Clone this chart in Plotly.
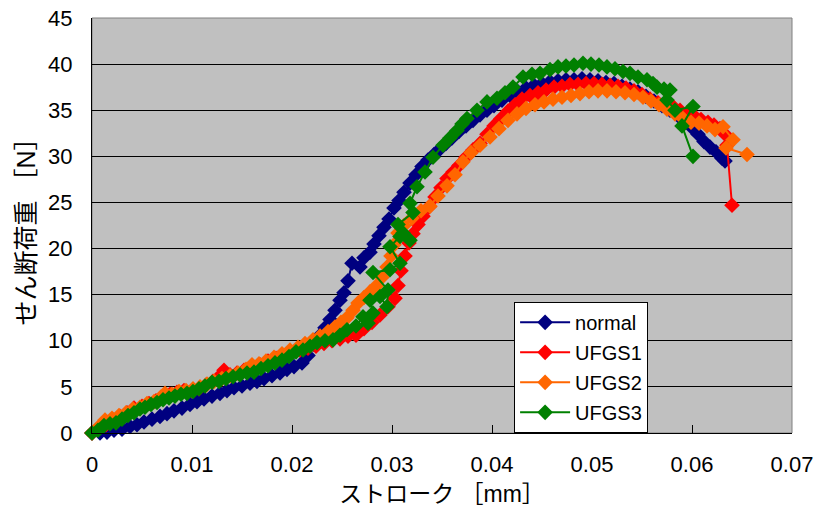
import plotly.graph_objects as go

# Shear load vs. stroke for the four specimen conditions
normal_x = [0.0000, 0.0008, 0.0015, 0.0022, 0.0030, 0.0038, 0.0045, 0.0052, 0.0060, 0.0068,
            0.0075, 0.0082, 0.0090, 0.0098, 0.0105, 0.0112, 0.0120, 0.0128, 0.0135, 0.0142,
            0.0150, 0.0158, 0.0165, 0.0172, 0.0180, 0.0188, 0.0195, 0.0202, 0.0210, 0.0216,
            0.0222, 0.0228, 0.0233, 0.0238, 0.0243, 0.0248, 0.0252, 0.0256, 0.0260, 0.0268,
            0.0272, 0.0278, 0.0282, 0.0287, 0.0292, 0.0297, 0.0302, 0.0307, 0.0312, 0.0318,
            0.0324, 0.0330, 0.0336, 0.0342, 0.0348, 0.0354, 0.0360, 0.0367, 0.0374, 0.0381,
            0.0388, 0.0395, 0.0402, 0.0410, 0.0418, 0.0426, 0.0434, 0.0442, 0.0450, 0.0458,
            0.0466, 0.0474, 0.0482, 0.0490, 0.0498, 0.0506, 0.0514, 0.0522, 0.0530, 0.0538,
            0.0546, 0.0554, 0.0562, 0.0570, 0.0578, 0.0586, 0.0594, 0.0600, 0.0606, 0.0612,
            0.0618, 0.0624, 0.0630, 0.0633]
normal_y = [0.0, 0.0, 0.1, 0.3, 0.4, 0.7, 0.9, 1.2, 1.5, 1.8,
            2.1, 2.4, 2.7, 3.1, 3.4, 3.7, 4.0, 4.3, 4.6, 4.9,
            5.1, 5.4, 5.6, 5.9, 6.2, 6.5, 6.9, 7.2, 7.6, 8.4,
            9.6, 10.6, 11.4, 12.3, 13.3, 14.4, 15.2, 16.5, 18.4, 18.0,
            19.0, 19.6, 20.5, 21.4, 22.3, 23.2, 24.4, 25.2, 26.1, 27.1,
            28.0, 28.9, 29.6, 30.2, 30.8, 31.4, 32.0, 32.7, 33.3, 33.9,
            34.5, 35.0, 35.5, 36.1, 36.6, 37.0, 37.4, 37.7, 37.9, 38.1,
            38.2, 38.3, 38.3, 38.4, 38.3, 38.2, 38.0, 37.9, 37.6, 37.3,
            37.0, 36.5, 36.0, 35.5, 35.0, 34.4, 33.8, 33.1, 32.4, 31.6,
            31.0, 30.5, 29.8, 29.5]

ufgs1_x = [0.0000, 0.0007, 0.0014, 0.0021, 0.0028, 0.0035, 0.0042, 0.0050, 0.0057, 0.0064,
           0.0071, 0.0078, 0.0085, 0.0092, 0.0100, 0.0107, 0.0114, 0.0121, 0.0128, 0.0132,
           0.0138, 0.0145, 0.0152, 0.0160, 0.0168, 0.0176, 0.0184, 0.0192, 0.0200, 0.0208,
           0.0216, 0.0224, 0.0232, 0.0240, 0.0248, 0.0256, 0.0264, 0.0272, 0.0280, 0.0288,
           0.0296, 0.0303, 0.0306, 0.0309, 0.0313, 0.0317, 0.0321, 0.0326, 0.0331, 0.0337,
           0.0343, 0.0349, 0.0355, 0.0361, 0.0367, 0.0374, 0.0381, 0.0388, 0.0395, 0.0402,
           0.0409, 0.0416, 0.0423, 0.0430, 0.0438, 0.0446, 0.0454, 0.0462, 0.0470, 0.0478,
           0.0486, 0.0494, 0.0502, 0.0510, 0.0518, 0.0526, 0.0534, 0.0542, 0.0550, 0.0558,
           0.0566, 0.0574, 0.0581, 0.0588, 0.0595, 0.0602, 0.0609, 0.0616, 0.0622, 0.0628,
           0.0633, 0.0635, 0.0640]
ufgs1_y = [0.0, 0.5, 0.9, 1.4, 1.8, 2.2, 2.7, 2.9, 3.2, 3.5,
           3.9, 4.2, 4.4, 4.6, 4.6, 4.8, 5.2, 5.6, 6.2, 6.8,
           6.3, 6.5, 6.8, 7.1, 7.4, 7.8, 8.1, 8.4, 8.7, 9.0,
           9.2, 9.4, 9.7, 10.0, 10.2, 10.5, 10.6, 11.3, 12.0, 12.8,
           13.7, 14.6, 16.0, 17.6, 19.2, 20.6, 21.6, 22.6, 23.5, 24.5,
           25.6, 26.6, 27.6, 28.3, 29.0, 29.9, 30.7, 31.4, 32.4, 33.3,
           34.1, 34.9, 35.6, 36.2, 36.6, 36.9, 37.2, 37.5, 37.6, 37.8,
           37.8, 37.9, 37.9, 37.8, 37.7, 37.6, 37.4, 37.1, 36.7, 36.2,
           35.8, 35.6, 35.4, 35.0, 34.7, 34.4, 34.0, 33.7, 33.4, 33.0,
           32.4, 31.2, 24.7]

ufgs2_x = [0.0000, 0.0006, 0.0013, 0.0020, 0.0027, 0.0034, 0.0041, 0.0048, 0.0055, 0.0062,
           0.0069, 0.0073, 0.0080, 0.0087, 0.0094, 0.0101, 0.0108, 0.0115, 0.0122, 0.0130,
           0.0138, 0.0146, 0.0154, 0.0160, 0.0167, 0.0174, 0.0182, 0.0190, 0.0198, 0.0206,
           0.0213, 0.0221, 0.0228, 0.0236, 0.0243, 0.0249, 0.0255, 0.0261, 0.0266, 0.0272,
           0.0278, 0.0284, 0.0290, 0.0295, 0.0299, 0.0302, 0.0306, 0.0312, 0.0320, 0.0329,
           0.0338, 0.0346, 0.0355, 0.0363, 0.0371, 0.0379, 0.0388, 0.0398, 0.0407, 0.0416,
           0.0425, 0.0434, 0.0443, 0.0452, 0.0461, 0.0470, 0.0479, 0.0488, 0.0497, 0.0506,
           0.0515, 0.0524, 0.0533, 0.0542, 0.0551, 0.0559, 0.0567, 0.0575, 0.0583, 0.0591,
           0.0599, 0.0607, 0.0615, 0.0623, 0.0631, 0.0641, 0.0634, 0.0655]
ufgs2_y = [0.0, 0.6, 1.4, 1.6, 1.9, 2.2, 2.6, 2.8, 3.2, 3.4,
           3.9, 4.3, 4.2, 4.5, 4.6, 4.8, 5.0, 5.3, 5.6, 5.9,
           6.2, 6.5, 6.9, 7.4, 7.5, 7.8, 8.2, 8.6, 9.0, 9.3,
           9.7, 10.1, 10.5, 11.0, 11.5, 12.0, 12.5, 13.3, 14.1, 14.7,
           15.3, 15.9, 16.9, 18.0, 19.2, 20.4, 21.7, 22.5, 23.3, 24.1,
           24.6, 25.7, 26.8, 28.0, 29.4, 30.4, 31.2, 32.1, 33.0, 33.9,
           34.6, 35.2, 35.6, 35.9, 36.2, 36.4, 36.6, 36.8, 37.0, 37.1,
           37.1, 37.0, 36.9, 36.7, 36.4, 36.0, 35.6, 35.1, 34.6, 34.1,
           33.7, 33.6, 33.3, 32.9, 33.2, 31.8, 30.9, 30.2]

ufgs3_x = [0.0000, 0.0006, 0.0012, 0.0018, 0.0024, 0.0030, 0.0036, 0.0042, 0.0048, 0.0053,
           0.0059, 0.0065, 0.0071, 0.0077, 0.0083, 0.0089, 0.0095, 0.0101, 0.0107, 0.0113,
           0.0120, 0.0127, 0.0134, 0.0141, 0.0148, 0.0155, 0.0162, 0.0169, 0.0176, 0.0183,
           0.0190, 0.0197, 0.0204, 0.0211, 0.0218, 0.0225, 0.0233, 0.0241, 0.0248, 0.0255,
           0.0264, 0.0271, 0.0276, 0.0281, 0.0278, 0.0288, 0.0295, 0.0296, 0.0281, 0.0298,
           0.0308, 0.0298, 0.0308, 0.0318, 0.0311, 0.0306, 0.0321, 0.0318, 0.0325, 0.0333,
           0.0341, 0.0351, 0.0358, 0.0365, 0.0370, 0.0375, 0.0385, 0.0395, 0.0405, 0.0413,
           0.0421, 0.0431, 0.0440, 0.0448, 0.0458, 0.0466, 0.0474, 0.0482, 0.0491, 0.0499,
           0.0507, 0.0515, 0.0523, 0.0531, 0.0538, 0.0546, 0.0555, 0.0561, 0.0565, 0.0572,
           0.0578, 0.0575, 0.0583, 0.0601, 0.0590, 0.0601]
ufgs3_y = [0.0, 0.3, 0.8, 1.0, 1.1, 1.5, 1.9, 2.2, 2.6, 2.8,
           3.1, 3.3, 3.6, 3.8, 4.0, 4.2, 4.3, 4.5, 4.8, 5.1,
           5.5, 5.6, 5.9, 6.1, 6.3, 6.5, 6.6, 7.0, 7.3, 7.6,
           7.9, 8.3, 8.8, 9.0, 9.4, 9.8, 10.0, 10.1, 10.6, 11.2,
           11.6, 12.6, 11.9, 13.0, 14.4, 14.8, 13.7, 15.5, 17.4, 17.7,
           18.4, 20.2, 21.3, 20.9, 21.7, 22.6, 23.9, 24.9, 26.7, 28.3,
           29.9, 31.2, 32.0, 32.8, 33.5, 34.1, 35.0, 35.9, 36.3, 36.9,
           37.5, 38.6, 38.9, 39.0, 39.4, 39.7, 39.8, 39.9, 40.1, 40.0,
           39.9, 39.7, 39.5, 39.2, 39.0, 38.6, 38.3, 37.9, 37.5, 37.3,
           37.2, 36.1, 35.0, 35.4, 33.3, 30.0]

series = [
    ("normal", normal_x, normal_y, "#000080"),
    ("UFGS1", ufgs1_x, ufgs1_y, "#FF0000"),
    ("UFGS2", ufgs2_x, ufgs2_y, "#FF6600"),
    ("UFGS3", ufgs3_x, ufgs3_y, "#008000"),
]

x_ticks = [0, 0.01, 0.02, 0.03, 0.04, 0.05, 0.06, 0.07]
x_tick_text = ["0", "0.01", "0.02", "0.03", "0.04", "0.05", "0.06", "0.07"]
y_ticks = [0, 5, 10, 15, 20, 25, 30, 35, 40, 45]

FONT = "Liberation Sans, Arial, Noto Sans CJK JP, sans-serif"

fig = go.Figure()
for name, xs, ys, color in series:
    fig.add_trace(go.Scatter(
        x=xs, y=ys, name=name, mode="lines+markers",
        line=dict(color=color, width=2),
        marker=dict(symbol="diamond", size=12, color=color),
        legendgroup=name, cliponaxis=False,
    ))

# plot-area frame (grey), axes drawn on top in black
fig.add_shape(type="rect", xref="paper", yref="paper", x0=0, x1=1, y0=0, y1=1,
              line=dict(color="#808080", width=1), layer="below")

fig.update_layout(
    width=815, height=517,
    margin=dict(l=92, r=23, t=18, b=84, autoexpand=False),
    paper_bgcolor="white",
    plot_bgcolor="#C0C0C0",
    font=dict(family=FONT, size=22, color="black"),
    showlegend=True,
    legend=dict(
        x=0.603, y=0.316, xanchor="left", yanchor="top",
        bgcolor="white", bordercolor="black", borderwidth=1,
        font=dict(family=FONT, size=20, color="black"),
        tracegroupgap=1, itemwidth=50,
    ),
    xaxis=dict(
        range=[0, 0.07], tickvals=x_ticks, ticktext=x_tick_text,
        showgrid=False, zeroline=False, automargin=False,
        showline=True, linecolor="black", linewidth=1,
        ticks="inside", ticklen=8, tickcolor="black",
        ticklabelstandoff=12,
        title=dict(text="ストローク ［mm］", font=dict(size=23), standoff=9),
    ),
    yaxis=dict(
        range=[0, 45], tickvals=y_ticks, automargin=False,
        showgrid=True, gridcolor="black", gridwidth=1, zeroline=False,
        showline=True, linecolor="black", linewidth=1,
        ticks="", ticklabelstandoff=14,
        title=dict(text="せん断荷重 ［N］", font=dict(size=25), standoff=5),
    ),
)

fig.write_html("out.html")
